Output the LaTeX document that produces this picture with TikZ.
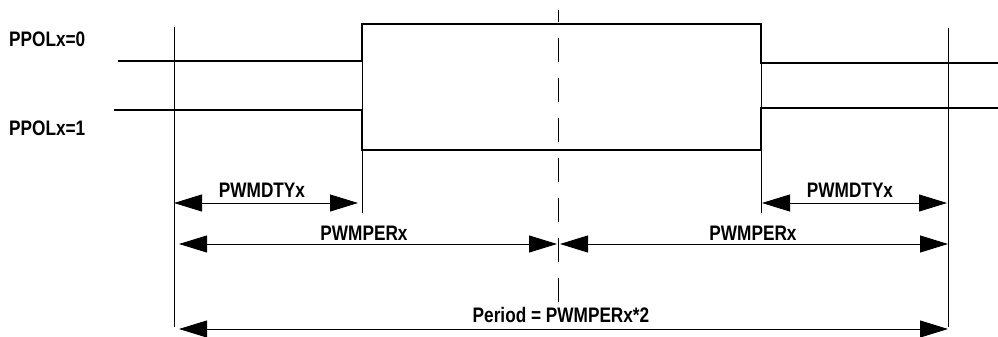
\documentclass[tikz,border=0pt]{standalone}
\usepackage{fontspec}
\newfontfamily\lbl[FakeStretch=0.82]{Liberation Sans}
\usetikzlibrary{arrows.meta}
\begin{document}
\begin{tikzpicture}[x=1pt,y=-1pt,
  wave/.style={line width=2pt,line cap=butt,line join=miter},
  guide/.style={line width=1pt},
  dim/.style={line width=1pt,{Triangle[length=28pt,width=17pt]}-{Triangle[length=28pt,width=17pt]}},
  txt/.style={font=\lbl\bfseries\fontsize{21}{25}\selectfont,inner sep=0pt,anchor=base}]
\useasboundingbox (0,0) rectangle (998,337);
% guide lines
\coordinate (L0) at (174,27);  \coordinate (L1) at (174,327);
\coordinate (R0) at (948,28);  \coordinate (R1) at (948,327);
\coordinate (C0) at (558.5,10); \coordinate (C1) at (558.5,302);
\coordinate (E1a) at (362,24); \coordinate (E1b) at (362,213);
\coordinate (E2a) at (761,24); \coordinate (E2b) at (761,213);
\draw[guide] (L0) -- (L1);
\draw[guide] (R0) -- (R1);
\draw[guide] (E1a) -- (E1b);
\draw[guide] (E2a) -- (E2b);
\draw[guide,dash pattern=on 24pt off 16pt,dash phase=12pt] (C0) -- (C1);
% waveforms
\coordinate (A0) at (118,61); \coordinate (A1) at (362,61); \coordinate (A2) at (362,24);
\coordinate (A3) at (761,24); \coordinate (A4) at (761,63); \coordinate (A5) at (998,63);
\draw[wave] (A0) -- (A1) -- (A2) -- (A3) -- (A4) -- (A5);
\coordinate (B0) at (114,110); \coordinate (B1) at (362,110); \coordinate (B2) at (362,150);
\coordinate (B3) at (761,150); \coordinate (B4) at (761,108); \coordinate (B5) at (998,108);
\draw[wave] (B0) -- (B1) -- (B2) -- (B3) -- (B4) -- (B5);
% labels
\node[txt,anchor=base west] (p0) at (9,47) {PPOLx=0};
\node[txt,anchor=base west] (p1) at (9,135) {PPOLx=1};
% dimension arrows
\coordinate (d1a) at (174,203); \coordinate (d1b) at (358,203);
\coordinate (d2a) at (762,203); \coordinate (d2b) at (947,203);
\coordinate (e1a) at (179,244); \coordinate (e1b) at (557,244);
\coordinate (e2a) at (560,244); \coordinate (e2b) at (948,244);
\coordinate (fa) at (179,329); \coordinate (fb) at (948,329);
\draw[dim] (d1a) -- (d1b);
\draw[dim] (d2a) -- (d2b);
\draw[dim] (e1a) -- (e1b);
\draw[dim] (e2a) -- (e2b);
\draw[dim] (fa) -- (fb);
\node[txt] (t1) at (262,197) {PWMDTYx};
\node[txt] (t2) at (850,197) {PWMDTYx};
\node[txt] (t3) at (364,240) {PWMPERx};
\node[txt] (t4) at (753,240) {PWMPERx};
\node[txt] (t5) at (561,322) {Period = PWMPERx*2};
\end{tikzpicture}
\end{document}
